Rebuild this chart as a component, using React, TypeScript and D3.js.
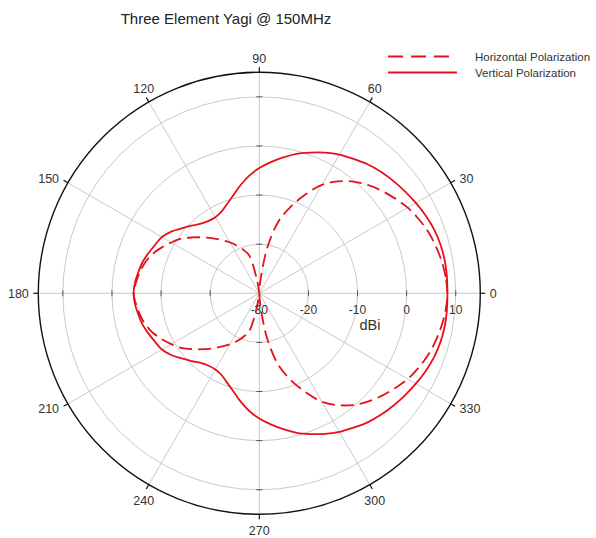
import React from "react";
import * as d3 from "d3";

const TITLE = "Three Element Yagi @ 150MHz";
const SERIES_NAMES = ["Horizontal Polarization", "Vertical Polarization"];

// angles in degrees (counter-clockwise from 0 = right)
const angles = [
  0, 5, 10, 15, 20, 25, 30, 35, 40, 45, 50, 55, 60, 65, 70, 75, 80, 85, 90,
  95, 100, 105, 110, 115, 120, 125, 130, 135, 140, 145, 150, 155, 160, 165, 170, 175, 180,
  185, 190, 195, 200, 205, 210, 215, 220, 225, 230, 235, 240, 245, 250, 255, 260, 265, 270,
  275, 280, 285, 290, 295, 300, 305, 310, 315, 320, 325, 330, 335, 340, 345, 350, 355,
];

// Horizontal polarization (dBi)
const horizontal = [
  8.3, 8.1, 7.7, 7.2, 6.6, 5.8, 4.9, 3.7, 2.5, 1.2, -0.3, -2.2, -4.5, -7.8, -11.2, -14.8, -20.5, -27.5, -40,
  -31, -27, -22, -20.6, -19.3, -18, -16.8, -15.4, -13.9, -12.3, -10.6, -9.3, -8.0, -6.8, -5.9, -5.3, -4.8, -4.4,
  -4.8, -5.3, -5.9, -6.8, -8.0, -9.3, -10.6, -12.3, -13.9, -15.4, -16.8, -18, -19.3, -20.6, -22, -27, -31, -40,
  -27.5, -20.5, -14.8, -11.2, -7.8, -4.5, -2.2, -0.3, 1.2, 2.5, 3.7, 4.9, 5.8, 6.6, 7.2, 7.7, 8.1,
];

// Vertical polarization (dBi)
const vertical = [
  8.3, 8.35, 8.35, 8.2, 7.9, 7.4, 6.8, 6.2, 5.6, 5.0, 4.3, 3.4, 2.6, 1.6, 0.5, -0.6, -1.9, -3.2, -4.5,
  -6.0, -7.7, -9.4, -10.7, -11.7, -12.1, -12.0, -11.5, -10.5, -9.4, -8.1, -7.1, -6.6, -6.0, -5.4, -5.0, -4.6, -4.4,
  -4.6, -5.0, -5.4, -6.0, -6.6, -7.1, -8.1, -9.4, -10.5, -11.5, -12.0, -12.1, -11.7, -10.7, -9.4, -7.7, -6.0, -4.5,
  -3.2, -1.9, -0.6, 0.5, 1.6, 2.6, 3.4, 4.3, 5.0, 5.6, 6.2, 6.8, 7.4, 7.9, 8.2, 8.35, 8.35,
];

const angleTicks = [0, 30, 60, 90, 120, 150, 180, 210, 240, 270, 300, 330];
const radialTicks = [-30, -20, -10, 0, 10];
const radialGrid = [-20, -10, 0, 10];
const RADIAL_MIN = -30;
const RADIAL_MAX = 15;

const W = 596;
const H = 538;
const CX = 259.3;
const CY = 293.3;
const R = 221;
const RED = "#e5121b";
const FONT = "'Liberation Sans', Arial, Helvetica, sans-serif";

export default function App() {
  const r = d3.scaleLinear().domain([RADIAL_MIN, RADIAL_MAX]).range([0, R]).clamp(true);
  const toRad = (deg: number) => (deg * Math.PI) / 180;

  const line = d3
    .lineRadial<number>()
    .angle((_, i) => Math.PI / 2 - toRad(angles[i]))
    .radius((d) => r(d))
    .curve(d3.curveCatmullRomClosed.alpha(0.5));

  const pos = (deg: number, rad: number) => [
    CX + rad * Math.cos(toRad(deg)),
    CY - rad * Math.sin(toRad(deg)),
  ];

  const labelFont = 12.5;
  const charW = labelFont * 0.556;

  return (
    <svg width={W} height={H} style={{ position: "absolute", left: 0, top: 0, background: "#fff" }}>
      <rect x={0} y={0} width={W} height={H} fill="#fff" />
      <text x={226} y={24} fontFamily={FONT} fontSize={15} fill="#222" textAnchor="middle">
        {TITLE}
      </text>

      {/* grid circles */}
      {radialGrid.map((v) => (
        <circle key={v} cx={CX} cy={CY} r={r(v)} fill="none" stroke="#c9c9c9" strokeWidth={1} />
      ))}
      {/* spokes */}
      {angleTicks.map((a) => {
        const [x, y] = pos(a, R);
        return <line key={a} x1={CX} y1={CY} x2={x} y2={y} stroke="#c9c9c9" strokeWidth={1} />;
      })}
      {/* axis tick marks on the 4 main axes */}
      {[0, 90, 180, 270].map((a) =>
        radialGrid.map((v) => {
          const [x, y] = pos(a, r(v));
          const horiz = a === 0 || a === 180;
          return horiz ? (
            <line key={a + "_" + v} x1={x} y1={y - 3} x2={x} y2={y + 3} stroke="#555" strokeWidth={1} />
          ) : (
            <line key={a + "_" + v} x1={x - 3} y1={y} x2={x + 3} y2={y} stroke="#555" strokeWidth={1} />
          );
        })
      )}
      {/* outer circle */}
      <circle cx={CX} cy={CY} r={R} fill="none" stroke="#111" strokeWidth={1.4} />
      {angleTicks.map((a) => {
        const [x1, y1] = pos(a, R);
        const [x2, y2] = pos(a, R + 5);
        return <line key={"t" + a} x1={x1} y1={y1} x2={x2} y2={y2} stroke="#111" strokeWidth={1.2} />;
      })}
      {angleTicks.map((a) => {
        const label = String(a);
        const w = label.length * charW;
        const th = toRad(a);
        const c = Math.cos(th);
        const s = Math.sin(th);
        const [tx, ty] = pos(a, R + 5);
        let x: number;
        let y: number;
        if (Math.abs(c) > 0.6) {
          x = tx + Math.sign(c) * (w / 2 + 4.5);
          y = ty - Math.sign(Math.round(s * 100)) * 2;
        } else {
          x = tx + (Math.abs(c) > 0.1 ? Math.sign(c) * 2.5 : 0);
          y = s > 0 ? ty - 9 : ty + 11.5;
        }
        return (
          <text key={"l" + a} x={x} y={y + 4.5} fontFamily={FONT} fontSize={labelFont} fill="#333" textAnchor="middle">
            {label}
          </text>
        );
      })}

      {/* data */}
      <g transform={`translate(${CX},${CY})`}>
        <path d={line(vertical) || ""} fill="none" stroke={RED} strokeWidth={1.8} />
        <path d={line(horizontal) || ""} fill="none" stroke={RED} strokeWidth={1.8} strokeDasharray="13,6" />
      </g>

      {/* radial tick labels */}
      {radialTicks.map((v) => (
        <text key={"r" + v} x={CX + r(v)} y={CY + 21} fontFamily={FONT} fontSize={12} fill="#333" textAnchor="middle">
          {v}
        </text>
      ))}
      <text x={370} y={330} fontFamily={FONT} fontSize={14.5} fill="#333" textAnchor="middle">
        dBi
      </text>

      {/* legend */}
      <line x1={388} y1={56.5} x2={452} y2={56.5} stroke={RED} strokeWidth={1.8} strokeDasharray="15,8" />
      <line x1={388} y1={72.5} x2={457} y2={72.5} stroke={RED} strokeWidth={1.8} />
      <text x={475} y={60.5} fontFamily={FONT} fontSize={11.5} fill="#333">
        {SERIES_NAMES[0]}
      </text>
      <text x={475} y={76.5} fontFamily={FONT} fontSize={11.5} fill="#333">
        {SERIES_NAMES[1]}
      </text>
    </svg>
  );
}
